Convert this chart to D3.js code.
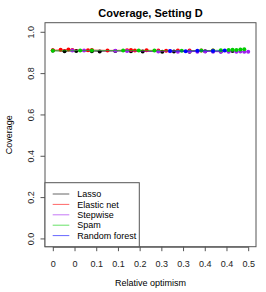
<!DOCTYPE html>
<html>
<head>
<meta charset="utf-8">
<script src="https://cdn.jsdelivr.net/npm/d3@7"></script>
<style>
body { margin: 0; background: #fff; }
text { font-family: "Liberation Sans", Arial, sans-serif; }
</style>
</head>
<body>
<svg width="266" height="292"></svg>
<script>
var methods = ["Lasso", "Elastic net", "Stepwise", "Spam", "Random forest"];
var colors = ["#000000", "#ff0000", "#a020f0", "#00cc00", "#0000ff"];
var tickLabels = ["0", "0", "0.1", "0.1", "0.2", "0.3", "0.3", "0.4", "0.4", "0.5"];
var yTicks = [0, 0.2, 0.4, 0.6, 0.8, 1.0];

// relative optimism (x) and coverage (y) per method
var lassoX = [0.00, 0.03, 0.06, 0.10, 0.12, 0.16, 0.20, 0.23, 0.28, 0.31, 0.35, 0.39, 0.43, 0.46];
var lassoY = [0.909, 0.906, 0.907, 0.906, 0.905, 0.907, 0.906, 0.905, 0.904, 0.905, 0.904, 0.906, 0.905, 0.907];
var enetX = [0.00, 0.02, 0.04, 0.05, 0.09, 0.10, 0.14, 0.19, 0.20, 0.21, 0.24, 0.27, 0.29, 0.32, 0.35, 0.38, 0.41];
var enetY = [0.911, 0.913, 0.914, 0.912, 0.911, 0.912, 0.910, 0.911, 0.912, 0.910, 0.911, 0.909, 0.908, 0.910, 0.909, 0.910, 0.909];
var stepX = [0.05, 0.08, 0.16, 0.19, 0.27, 0.30, 0.32, 0.35, 0.37, 0.39, 0.41, 0.43, 0.45, 0.47, 0.48, 0.49, 0.50];
var stepY = [0.909, 0.910, 0.908, 0.907, 0.905, 0.906, 0.904, 0.905, 0.904, 0.905, 0.904, 0.903, 0.904, 0.903, 0.905, 0.903, 0.904];
var spamX = [0.00, 0.07, 0.10, 0.18, 0.22, 0.26, 0.33, 0.38, 0.41, 0.43, 0.45, 0.46, 0.47, 0.48, 0.49];
var spamY = [0.908, 0.909, 0.910, 0.909, 0.910, 0.909, 0.908, 0.909, 0.910, 0.911, 0.912, 0.913, 0.912, 0.914, 0.916];
var rfX = [0.30, 0.34, 0.37, 0.41, 0.44];
var rfY = [0.907, 0.906, 0.908, 0.907, 0.909];

var xsAll = [lassoX, enetX, stepX, spamX, rfX];
var ysAll = [lassoY, enetY, stepY, spamY, rfY];

var svg = d3.select("svg");
var pLeft = 45, pRight = 256, pTop = 22.7, pBottom = 246.7;

var x = d3.scaleLinear().domain([-0.02, 0.52]).range([pLeft, pRight]);
var y = d3.scaleLinear().domain([-0.04, 1.044]).range([pBottom, pTop]);
var tickPos = tickLabels.map(function(d, i) { return i * 0.5 / (tickLabels.length - 1); });

// title
svg.append("text")
	.attr("x", (pLeft + pRight) / 2)
	.attr("y", 16.8)
	.attr("text-anchor", "middle")
	.style("font-size", "11px")
	.style("font-weight", "bold")
	.text("Coverage, Setting D");

// axes
var xAxis = d3.axisBottom(x)
	.tickValues(tickPos)
	.tickSize(4.5)
	.tickPadding(9)
	.tickFormat(function(d, i) { return tickLabels[i]; });
var gx = svg.append("g")
	.attr("transform", "translate(0," + pBottom + ")")
	.call(xAxis);
gx.select(".domain").attr("d", "M" + x(0) + ",0.5H" + x(0.5)).attr("stroke", "#555");
gx.selectAll(".tick line").attr("stroke", "#555");
gx.selectAll("text").style("font-size", "9px").attr("fill", "#222")
	.attr("font-family", "Liberation Sans, Arial, sans-serif");

var yAxis = d3.axisLeft(y)
	.tickValues(yTicks)
	.tickSize(4.5)
	.tickFormat(d3.format(".1f"));
var gy = svg.append("g")
	.attr("transform", "translate(" + pLeft + ",0)")
	.call(yAxis);
gy.select(".domain").remove();
gy.selectAll(".tick line").attr("stroke", "#555");
gy.selectAll(".tick text")
	.attr("x", 0).attr("dy", null)
	.attr("transform", "translate(-11.5,0) rotate(-90)")
	.attr("text-anchor", "middle")
	.style("font-size", "9px").attr("fill", "#222")
	.attr("font-family", "Liberation Sans, Arial, sans-serif");

// axis titles
svg.append("text")
	.attr("x", (pLeft + pRight) / 2)
	.attr("y", 285.5)
	.attr("text-anchor", "middle")
	.style("font-size", "9px")
	.text("Relative optimism");
svg.append("text")
	.attr("transform", "translate(11.5," + ((pTop + pBottom) / 2) + ") rotate(-90)")
	.attr("text-anchor", "middle")
	.style("font-size", "9px")
	.text("Coverage");

// series
var line = d3.line()
	.x(function(d) { return x(d[0]); })
	.y(function(d) { return y(d[1]); });

methods.forEach(function(m, k) {
	var pts = xsAll[k].map(function(v, i) { return [v, ysAll[k][i]]; });
	svg.append("path")
		.datum(pts)
		.attr("d", line)
		.attr("fill", "none")
		.attr("stroke", colors[k])
		.attr("stroke-opacity", 0.6)
		.attr("stroke-width", 1);
	svg.selectAll(".pt" + k)
		.data(pts)
		.enter()
		.append("circle")
		.attr("class", "pt" + k)
		.attr("cx", function(d) { return x(d[0]); })
		.attr("cy", function(d) { return y(d[1]); })
		.attr("r", 2)
		.attr("fill", colors[k]);
});

// box
svg.append("rect")
	.attr("x", pLeft).attr("y", pTop)
	.attr("width", pRight - pLeft).attr("height", pBottom - pTop)
	.attr("fill", "none").attr("stroke", "#555");

// legend
var lg = svg.append("g");
lg.append("rect")
	.attr("x", pLeft).attr("y", 182.7)
	.attr("width", 139.3 - pLeft).attr("height", pBottom - 182.7)
	.attr("fill", "#fff").attr("stroke", "#555");
methods.forEach(function(m, k) {
	var yy = 194 + k * 10.4;
	lg.append("line")
		.attr("x1", 52.7).attr("x2", 69.3)
		.attr("y1", yy).attr("y2", yy)
		.attr("stroke", colors[k])
		.attr("stroke-opacity", 0.6)
		.attr("stroke-width", 1);
	lg.append("text")
		.attr("x", 77.3).attr("y", yy + 3.2)
		.style("font-size", "9px")
		.text(m);
});
</script>
</body>
</html>
